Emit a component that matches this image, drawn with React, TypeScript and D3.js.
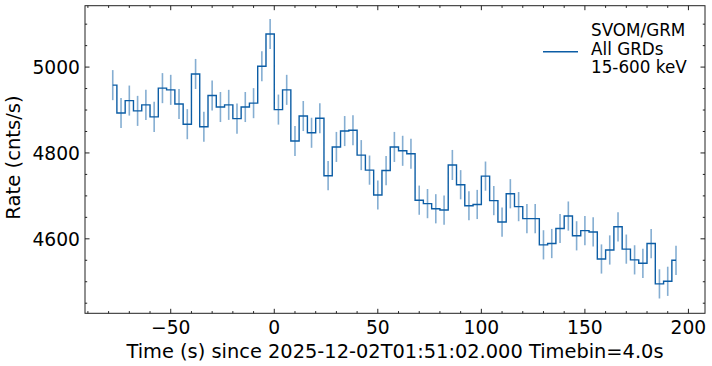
import * as d3 from 'd3';

// bin centres (s) and rates (cnts/s), 4 s bins
const times = d3.range(-78, 195, 4);
const rates = [
  4958, 4893, 4922, 4898, 4912, 4884, 4951, 4947, 4914, 4867,
  4984, 4861, 4934, 4907, 4912, 4880, 4907, 4916, 5002, 5077,
  4901, 4947, 4828, 4886, 4847, 4881, 4747, 4814, 4851, 4853,
  4795, 4760, 4702, 4759, 4814, 4805, 4798, 4690, 4682, 4670,
  4667, 4772, 4726, 4677, 4680, 4746, 4689, 4639, 4705, 4675,
  4647, 4647, 4586, 4589, 4624, 4653, 4607, 4619, 4616, 4553,
  4574, 4628, 4576, 4551, 4543, 4589, 4495, 4501, 4550,
];
const errors = [
  35, 35, 35, 35, 35, 35, 35, 35, 35, 35,
  35, 35, 35, 35, 35, 35, 35, 35, 35, 35,
  35, 35, 35, 35, 35, 35, 34, 35, 35, 35,
  35, 34, 34, 34, 35, 35, 35, 34, 34, 34,
  34, 35, 34, 34, 34, 34, 34, 34, 34, 34,
  34, 34, 34, 34, 34, 34, 34, 34, 34, 34,
  34, 34, 34, 34, 34, 34, 34, 34, 34,
];
const xTicks = [-50, 0, 50, 100, 150, 200];
const yTicks = [4600, 4800, 5000];
const legendLines = ['SVOM/GRM', 'All GRDs', '15-600 keV'];
const xLabel = 'Time (s) since 2025-12-02T01:51:02.000 Timebin=4.0s';
const yLabel = 'Rate (cnts/s)';

const W = 712;
const H = 366;
const color = '#0C5DA5';
const font = 'DejaVu Sans, sans-serif';

export default function App() {
  const x = d3.scaleLinear().domain([-91.4, 208]).range([85, 705]);
  const y = d3.scaleLinear().domain([4426.5, 5143]).range([313.3, 5.7]);
  const [x0, x1] = x.range();
  const [y0, y1] = y.range();

  const pts: [number, number][] = times.map((t, i) => [t, rates[i]]);
  const line = d3.line<[number, number]>()
    .x(d => x(d[0]))
    .y(d => y(d[1]))
    .curve(d3.curveStep);

  const xMinor = d3.range(-90, 210, 10).filter(v => v % 50 !== 0);
  const yMinor = d3.range(4450, 5150, 50).filter(v => v % 200 !== 0);
  const axisColor = '#222';

  return (
    <svg width={W} height={H} style={{ position: 'absolute', left: 0, top: 0, background: '#fff' }}>
      {/* error bars */}
      <g stroke={color} strokeOpacity={0.5} strokeWidth={1.6}>
        {times.map((t, i) => (
          <line key={i} x1={x(t)} x2={x(t)} y1={y(rates[i] - errors[i])} y2={y(rates[i] + errors[i])} />
        ))}
      </g>
      <path d={line(pts) || ''} fill="none" stroke={color} strokeWidth={1.4} />

      {/* frame */}
      <rect x={x0} y={y1} width={x1 - x0} height={y0 - y1} fill="none" stroke={axisColor} strokeWidth={1} />

      {/* ticks, pointing inward on all sides */}
      <g stroke={axisColor} strokeWidth={1}>
        {xTicks.map(v => (
          <g key={'xt' + v}>
            <line x1={x(v)} x2={x(v)} y1={y0} y2={y0 - 4.5} />
            <line x1={x(v)} x2={x(v)} y1={y1} y2={y1 + 4.5} />
          </g>
        ))}
        {xMinor.map(v => (
          <g key={'xm' + v}>
            <line x1={x(v)} x2={x(v)} y1={y0} y2={y0 - 2.2} />
            <line x1={x(v)} x2={x(v)} y1={y1} y2={y1 + 2.2} />
          </g>
        ))}
        {yTicks.map(v => (
          <g key={'yt' + v}>
            <line x1={x0} x2={x0 + 4.5} y1={y(v)} y2={y(v)} />
            <line x1={x1} x2={x1 - 4.5} y1={y(v)} y2={y(v)} />
          </g>
        ))}
        {yMinor.map(v => (
          <g key={'ym' + v}>
            <line x1={x0} x2={x0 + 2.2} y1={y(v)} y2={y(v)} />
            <line x1={x1} x2={x1 - 2.2} y1={y(v)} y2={y(v)} />
          </g>
        ))}
      </g>

      <g fontFamily={font} fontSize={18.7} fill="#000">
        {xTicks.map(v => (
          <text key={'xl' + v} x={x(v)} y={334} textAnchor="middle">
            {v < 0 ? '\u2212' + Math.abs(v) : String(v)}
          </text>
        ))}
        {yTicks.map(v => (
          <text key={'yl' + v} x={80} y={y(v)} dy="0.36em" textAnchor="end">{v}</text>
        ))}
        <text x={(x0 + x1) / 2} y={357.5} textAnchor="middle" fontSize={19.4}>{xLabel}</text>
        <text transform={`translate(19.5,${(y0 + y1) / 2 - 2}) rotate(-90)`} textAnchor="middle" fontSize={19.6}>{yLabel}</text>
      </g>

      {/* legend */}
      <line x1={543} x2={578} y1={51.7} y2={51.7} stroke={color} strokeWidth={1.4} />
      <g fontFamily={font} fontSize={16.8} fill="#000">
        {legendLines.map((s, i) => (
          <text key={s} x={591} y={36 + i * 18.5}>{s}</text>
        ))}
      </g>
    </svg>
  );
}
